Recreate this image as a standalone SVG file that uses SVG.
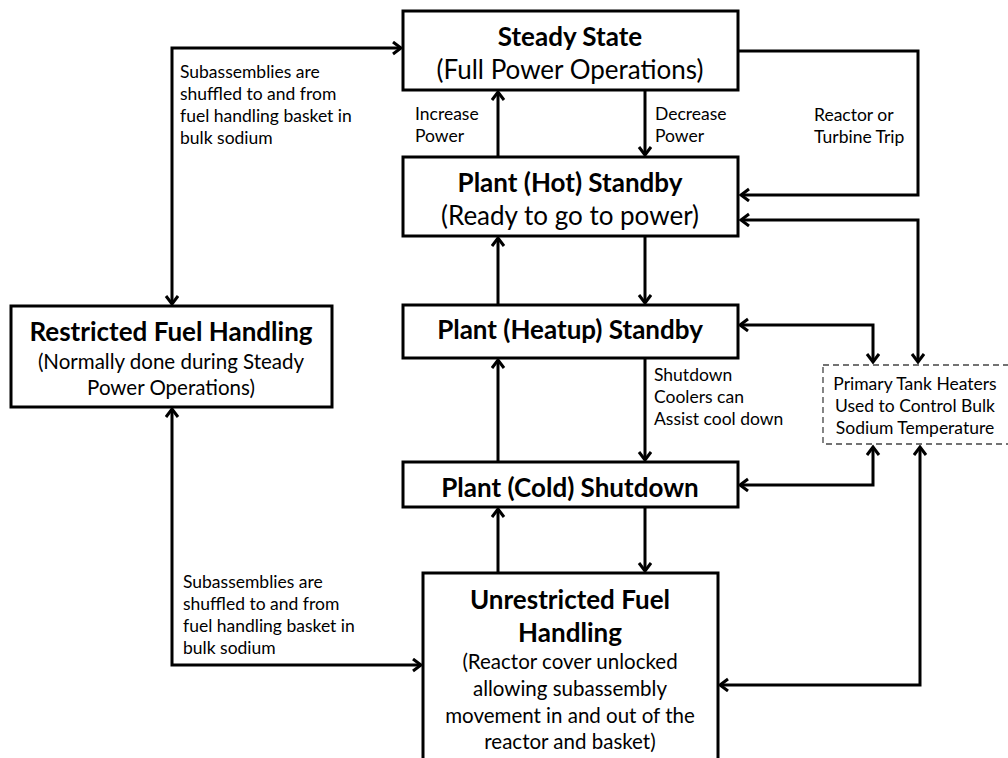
<svg xmlns="http://www.w3.org/2000/svg" width="1008" height="758" viewBox="0 0 1008 758">
  <style>
    .box { fill: #ffffff; stroke: #000000; stroke-width: 3; }
    .dash { fill: #ffffff; stroke: #444444; stroke-width: 1.3; stroke-dasharray: 6 4; }
    .conn { fill: none; stroke: #000000; stroke-width: 3; }
    text { font-family: Lato, "Liberation Sans", sans-serif; fill: #000000; }
    .title { font-size: 26px; font-weight: bold; text-anchor: middle; }
    .sub { font-size: 26px; text-anchor: middle; }
    .sub2 { font-size: 20.5px; text-anchor: middle; }
    .lbl { font-size: 17.5px; }
    .lblc { font-size: 17.5px; text-anchor: middle; }
  </style>
  <defs>
    <marker id="head" markerUnits="userSpaceOnUse" markerWidth="14" markerHeight="16" refX="10" refY="7" orient="auto-start-reverse" viewBox="0 0 14 16">
      <path d="M2,1 L10,7 L2,13" fill="none" stroke="#000000" stroke-width="3"/>
    </marker>
  </defs>

  <rect width="1008" height="758" fill="#ffffff"/>

  <!-- connectors -->
  <g id="connectors">
    <path class="conn" d="M498,157 V92" marker-end="url(#head)"/>
    <path class="conn" d="M645,90 V155" marker-end="url(#head)"/>
    <path class="conn" d="M738,51 H918 V195 H741" marker-end="url(#head)"/>
    <path class="conn" d="M741,220 H918 V362" marker-start="url(#head)" marker-end="url(#head)"/>
    <path class="conn" d="M498,305 V238" marker-end="url(#head)"/>
    <path class="conn" d="M645,236 V303" marker-end="url(#head)"/>
    <path class="conn" d="M740,325 H873 V362" marker-start="url(#head)" marker-end="url(#head)"/>
    <path class="conn" d="M498,462 V360" marker-end="url(#head)"/>
    <path class="conn" d="M645,358 V460" marker-end="url(#head)"/>
    <path class="conn" d="M740,485 H873 V447" marker-start="url(#head)" marker-end="url(#head)"/>
    <path class="conn" d="M498,573 V509" marker-end="url(#head)"/>
    <path class="conn" d="M645,507 V571" marker-end="url(#head)"/>
    <path class="conn" d="M920,447 V685 H720" marker-start="url(#head)" marker-end="url(#head)"/>
    <path class="conn" d="M172,304 V48 H401" marker-start="url(#head)" marker-end="url(#head)"/>
    <path class="conn" d="M172,409 V665 H421" marker-start="url(#head)" marker-end="url(#head)"/>
  </g>

  <!-- connector labels -->
  <g id="labels">
    <text class="lbl" x="415" y="120">Increase</text>
    <text class="lbl" x="415" y="142">Power</text>
    <text class="lbl" x="655" y="120">Decrease</text>
    <text class="lbl" x="655" y="142">Power</text>
    <text class="lbl" x="814" y="121">Reactor or</text>
    <text class="lbl" x="814" y="143">Turbine Trip</text>
    <text class="lbl" x="654" y="381">Shutdown</text>
    <text class="lbl" x="654" y="403">Coolers can</text>
    <text class="lbl" x="654" y="425">Assist cool down</text>
    <text class="lbl" x="180" y="78">Subassemblies are</text>
    <text class="lbl" x="180" y="100">shuffled to and from</text>
    <text class="lbl" x="180" y="122">fuel handling basket in</text>
    <text class="lbl" x="180" y="144">bulk sodium</text>
    <text class="lbl" x="183" y="588">Subassemblies are</text>
    <text class="lbl" x="183" y="610">shuffled to and from</text>
    <text class="lbl" x="183" y="632">fuel handling basket in</text>
    <text class="lbl" x="183" y="654">bulk sodium</text>
  </g>

  <g id="steady-state">
    <rect class="box" x="403" y="11" width="335" height="79"/>
    <text class="title" x="570" y="46">Steady State</text>
    <text class="sub" x="570" y="79">(Full Power Operations)</text>
  </g>

  <g id="hot-standby">
    <rect class="box" x="403" y="157" width="335" height="79"/>
    <text class="title" x="570" y="192">Plant (Hot) Standby</text>
    <text class="sub" x="570" y="225">(Ready to go to power)</text>
  </g>

  <g id="heatup-standby">
    <rect class="box" x="403" y="305" width="335" height="53"/>
    <text class="title" x="570" y="339">Plant (Heatup) Standby</text>
  </g>

  <g id="cold-shutdown">
    <rect class="box" x="403" y="462" width="335" height="45"/>
    <text class="title" x="570" y="497">Plant (Cold) Shutdown</text>
  </g>

  <g id="unrestricted-fuel-handling">
    <rect class="box" x="423" y="573" width="295" height="200"/>
    <text class="title" x="570" y="609">Unrestricted Fuel</text>
    <text class="title" x="570" y="642">Handling</text>
    <text class="sub2" x="570" y="669">(Reactor cover unlocked</text>
    <text class="sub2" x="570" y="696">allowing subassembly</text>
    <text class="sub2" x="570" y="723">movement in and out of the</text>
    <text class="sub2" x="570" y="749">reactor and basket)</text>
  </g>

  <g id="restricted-fuel-handling">
    <rect class="box" x="11" y="306" width="321" height="101"/>
    <text class="title" x="171" y="341">Restricted Fuel Handling</text>
    <text class="sub2" x="171" y="369">(Normally done during Steady</text>
    <text class="sub2" x="171" y="395">Power Operations)</text>
  </g>

  <g id="tank-heaters">
    <rect class="dash" x="823" y="365" width="200" height="79"/>
    <text class="lblc" x="915" y="390">Primary Tank Heaters</text>
    <text class="lblc" x="915" y="412">Used to Control Bulk</text>
    <text class="lblc" x="915" y="434">Sodium Temperature</text>
  </g>
</svg>
